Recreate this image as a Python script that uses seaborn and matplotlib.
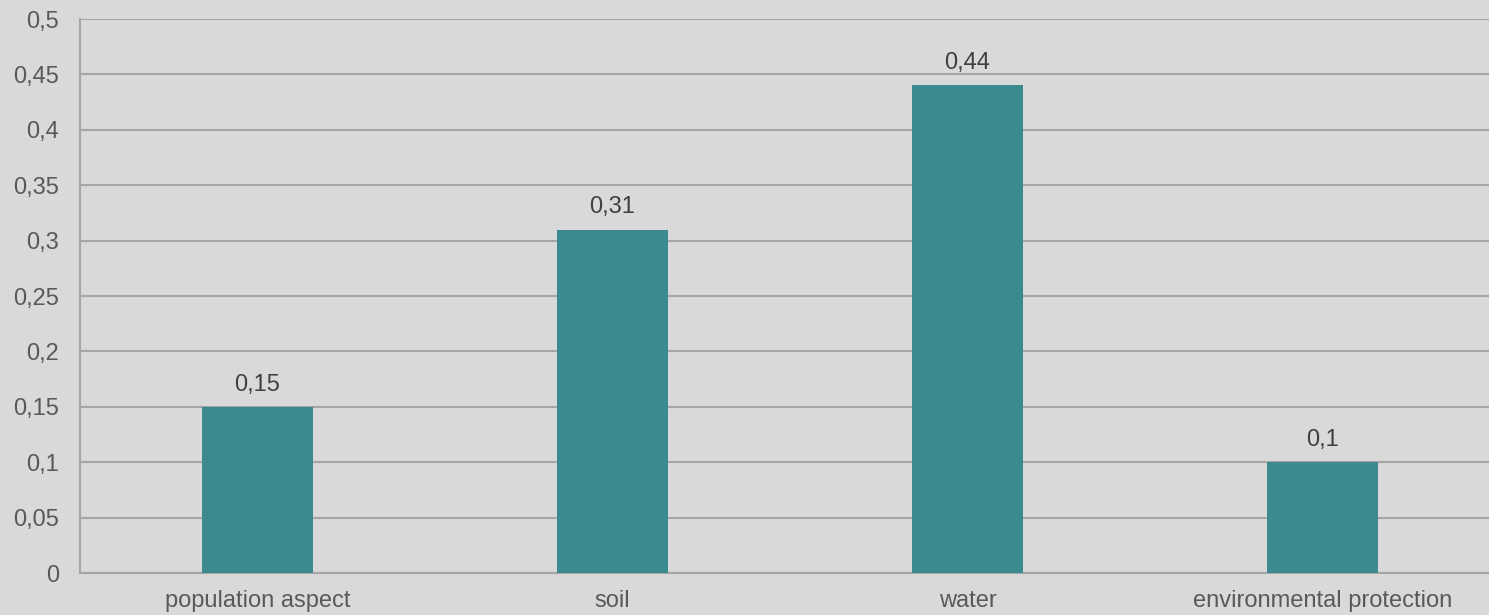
import matplotlib
matplotlib.use("Agg")
import matplotlib.pyplot as plt
import seaborn as sns
import pandas as pd

categories = ["population aspect", "soil", "water", "environmental protection"]
values = [0.15, 0.31, 0.44, 0.10]
value_labels = ["0,15", "0,31", "0,44", "0,1"]
yticks = [0, 0.05, 0.1, 0.15, 0.2, 0.25, 0.3, 0.35, 0.4, 0.45, 0.5]
ytick_labels = ["0", "0,05", "0,1", "0,15", "0,2", "0,25", "0,3", "0,35", "0,4", "0,45", "0,5"]

df = pd.DataFrame({"category": categories, "value": values})

sns.set_theme(style="white")
plt.rcParams["font.family"] = ["Liberation Sans", "DejaVu Sans"]

W, H = 1489, 615
fig = plt.figure(figsize=(W / 100, H / 100), dpi=100)
fig.patch.set_facecolor("#d9d9d9")
ax = fig.add_axes([80 / W, 42 / H, 1420 / W, (573 - 19) / H])
ax.set_facecolor("#d9d9d9")

sns.barplot(data=df, x="category", y="value", color="#3b8a90", width=0.313,
            saturation=1, ax=ax, zorder=3, linewidth=0, edgecolor="none")

ax.set_ylim(0, 0.5)
ax.set_xlim(-0.5, 3.5)
ax.set_yticks(yticks)
ax.set_yticklabels(ytick_labels)
ax.yaxis.grid(True, color="#a6a6a6", linewidth=1.5, zorder=0)
ax.set_axisbelow(True)
for s in ["top", "right"]:
    ax.spines[s].set_visible(False)
ax.spines["left"].set_color("#a6a6a6")
ax.spines["left"].set_linewidth(1.5)
ax.spines["bottom"].set_color("#a6a6a6")
ax.spines["bottom"].set_linewidth(1.5)
ax.tick_params(axis="both", length=0, labelsize=17, colors="#595959")
ax.tick_params(axis="x", pad=12)
ax.tick_params(axis="y", pad=15)
ax.set_xlabel("")
ax.set_ylabel("")

for i, (v, lab) in enumerate(zip(values, value_labels)):
    ax.annotate(lab, (i, v), xytext=(0, 8), textcoords="offset points",
                ha="center", va="bottom", fontsize=17, color="#404040")

fig.savefig("out.png", dpi=100, facecolor=fig.get_facecolor())
